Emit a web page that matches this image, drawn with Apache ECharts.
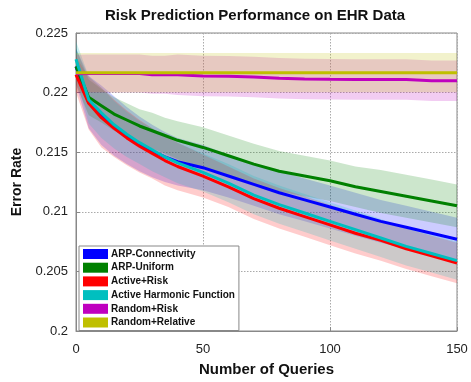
<!DOCTYPE html>
<html>
<head>
<meta charset="utf-8">
<script src="https://cdn.jsdelivr.net/npm/echarts@6/dist/echarts.min.js"></script>
<style>html,body{margin:0;padding:0;background:#fff}#c{width:471px;height:382px}</style>
</head>
<body>
<div id="c"></div>
<script>
// x positions (number of queries)
const queries = [0,5,10,15,20,25,30,35,40,50,60,70,80,90,100,110,120,130,140,150];
const xTicks = [0,50,100,150];
const yTicks = [0.2,0.205,0.21,0.215,0.22,0.225];

const names = ['ARP-Connectivity','ARP-Uniform','Active+Risk','Active Harmonic Function','Random+Risk','Random+Relative'];

// mean error rate per series
const arpConn   = [0.2222,0.2192,0.2181,0.2172,0.2164,0.2157,0.2151,0.2146,0.2142,0.2137,0.2130,0.2123,0.2116,0.2110,0.2104,0.2098,0.2092,0.2087,0.2082,0.2077];
const arpUnif   = [0.2222,0.2196,0.2189,0.2182,0.2177,0.2172,0.2168,0.2164,0.2160,0.2154,0.2147,0.2140,0.2134,0.2130,0.2126,0.2121,0.2117,0.2113,0.2109,0.2105];
const actRisk   = [0.2215,0.2191,0.2179,0.2170,0.2162,0.2155,0.2149,0.2143,0.2138,0.2130,0.2121,0.2111,0.2103,0.2096,0.2089,0.2082,0.2076,0.2069,0.2063,0.2057];
const actHarm   = [0.2228,0.2194,0.2183,0.2173,0.2165,0.2158,0.2152,0.2146,0.2141,0.2133,0.2124,0.2114,0.2106,0.2099,0.2092,0.2085,0.2078,0.2071,0.2065,0.2059];
const randRisk  = [0.22158,0.2216,0.2216,0.2216,0.2216,0.2216,0.2215,0.2215,0.2215,0.2214,0.22137,0.2213,0.2212,0.22115,0.22112,0.2211,0.2211,0.2211,0.2210,0.2210];
const randRel   = [0.22167,0.22167,0.22167,0.22167,0.22167,0.22167,0.22167,0.22167,0.22167,0.22167,0.22167,0.22167,0.22167,0.22167,0.22167,0.22167,0.22167,0.22167,0.22167,0.22167];

// spread (half-width of shaded band) per series
const arpConnSd  = [0.0015,0.0022,0.0025,0.0025,0.0024,0.0023,0.0022,0.0021,0.0020,0.0019,0.0018,0.0018,0.0018,0.0018,0.0018,0.0018,0.0018,0.0018,0.0018,0.0018];
const arpUnifSd  = [0.0015,0.0015,0.0014,0.0014,0.0014,0.0014,0.0015,0.0015,0.0016,0.0017,0.0017,0.0017,0.0017,0.0017,0.0017,0.0017,0.0018,0.0018,0.0018,0.0018];
const actRiskSd  = [0.0015,0.0022,0.0025,0.0024,0.0023,0.0022,0.0021,0.0021,0.0020,0.0018,0.0017,0.0017,0.0017,0.0017,0.0017,0.0017,0.0017,0.0017,0.0017,0.0017];
const actHarmSd  = [0.0015,0.0020,0.0021,0.0020,0.0019,0.0018,0.0018,0.0017,0.0017,0.0016,0.0016,0.0016,0.0016,0.0016,0.0016,0.0016,0.0016,0.0016,0.0016,0.0016];
const randRiskSd = [0.0016,0.0016,0.0016,0.0016,0.0016,0.0016,0.0016,0.0016,0.0017,0.0017,0.0017,0.0017,0.0017,0.0017,0.0017,0.0017,0.0017,0.0017,0.0017,0.0017];
const randRelSd  = [0.00165,0.00165,0.00165,0.00165,0.00165,0.00165,0.00165,0.00165,0.00165,0.00165,0.00165,0.00165,0.00165,0.00165,0.00165,0.00165,0.00165,0.00165,0.00165,0.00165];

const means = [arpConn, arpUnif, actRisk, actHarm, randRisk, randRel];
const sds = [arpConnSd, arpUnifSd, actRiskSd, actHarmSd, randRiskSd, randRelSd];
const lineColors = ['#0000FF','#008000','#FF0000','#00BFBF','#BF00BF','#BFBF00'];
const bandColors = ['rgba(0,0,255,0.2)','rgba(0,128,0,0.2)','rgba(255,0,0,0.2)','rgba(0,191,191,0.2)','rgba(191,0,191,0.2)','rgba(191,191,0,0.2)'];

const FONT = '"Liberation Sans", Arial, Helvetica, sans-serif';
const series = [];
// shaded bands: one polygon per series, drawn through the axes' scales (api.coord)
means.forEach((m, k) => {
  const sd = sds[k];
  const bandData = queries.map((x, i) => [x, m[i] - sd[i], m[i] + sd[i]]);
  series.push({
    name: 'band' + k, type: 'custom', silent: true, z: 1,
    encode: {x: 0, y: [1, 2]},
    data: bandData,
    renderItem: function (params, api) {
      if (params.dataIndex !== 0) return null;
      const pts = [];
      bandData.forEach(d => pts.push(api.coord([d[0], d[2]])));
      for (let i = bandData.length - 1; i >= 0; i--) pts.push(api.coord([bandData[i][0], bandData[i][1]]));
      return {
        type: 'polygon',
        shape: {points: pts},
        style: {fill: bandColors[k], stroke: null}
      };
    }
  });
});
means.forEach((m, k) => {
  series.push({
    name: names[k], type: 'line', symbol: 'none', z: 3,
    color: lineColors[k],
    lineStyle: {width: 3, color: lineColors[k]},
    data: queries.map((x, i) => [x, m[i]])
  });
});

const chart = echarts.init(document.getElementById('c'), null, {renderer: 'canvas'});
chart.setOption({
  animation: false,
  backgroundColor: '#fff',
  textStyle: {fontFamily: FONT},
  title: {
    text: 'Risk Prediction Performance on EHR Data',
    left: 105, top: 8, padding: 0,
    textStyle: {fontFamily: FONT, fontSize: 15, fontWeight: 'bold', color: '#111'}
  },
  grid: {left: 76, right: 14, top: 33, bottom: 49, show: true, borderColor: '#888', borderWidth: 1, backgroundColor: 'transparent'},
  legend: {
    orient: 'vertical', left: 79, top: 246,
    data: names,
    icon: 'rect', itemWidth: 25, itemHeight: 10, itemGap: 1.7,
    padding: [2, 4, 2, 4],
    backgroundColor: '#fff', borderColor: '#888', borderWidth: 1,
    textStyle: {fontFamily: FONT, fontSize: 10, fontWeight: 'bold', color: '#111', lineHeight: 12, padding: [0,0,0,-2]},
    z: 10
  },
  xAxis: {
    type: 'value', min: 0, max: 150, interval: 50,
    name: 'Number of Queries', nameLocation: 'middle', nameGap: 31,
    nameTextStyle: {fontFamily: FONT, fontSize: 15, fontWeight: 'bold', color: '#111'},
    axisLine: {show: true, lineStyle: {color: '#888'}},
    axisTick: {show: true, inside: true, length: 4, lineStyle: {color: '#888'}},
    axisLabel: {fontFamily: FONT, fontSize: 13, color: '#222', margin: 12},
    splitLine: {show: true, lineStyle: {type: [1.5, 1.5], color: '#aaa', width: 1}}
  },
  yAxis: {
    type: 'value', min: 0.2, max: 0.225, interval: 0.005,
    name: 'Error Rate', nameLocation: 'middle', nameGap: 49, nameRotate: 90,
    nameTextStyle: {fontFamily: FONT, fontSize: 14, fontWeight: 'bold', color: '#111'},
    axisLine: {show: true, lineStyle: {color: '#888'}},
    axisTick: {show: true, inside: true, length: 4, lineStyle: {color: '#888'}},
    axisLabel: {fontFamily: FONT, fontSize: 13, color: '#222', margin: 8,
      formatter: v => String(parseFloat(v.toFixed(3)))},
    splitLine: {show: true, lineStyle: {type: [1.5, 1.5], color: '#aaa', width: 1}}
  },
  series: series
});
</script>
</body>
</html>
